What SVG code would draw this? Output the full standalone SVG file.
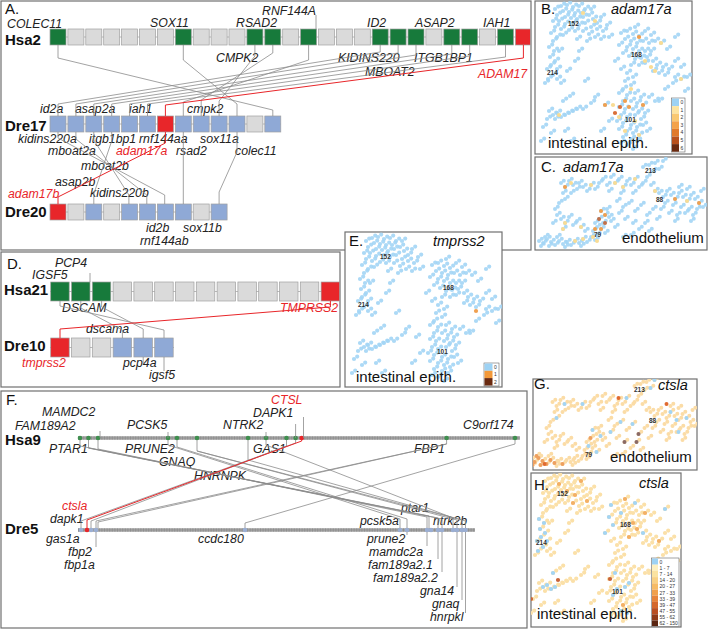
<svg xmlns="http://www.w3.org/2000/svg" width="708" height="629" viewBox="0 0 708 629">
<style>
.fr{fill:#fff;stroke:#707070;stroke-width:1.2}
.g{font-family:"Liberation Sans",Arial,sans-serif;font-style:italic;font-size:12.3px;fill:#222}
.gr{font-family:"Liberation Sans",Arial,sans-serif;font-style:italic;font-size:12.3px;fill:#e8262a}
.ch{font-family:"Liberation Sans",Arial,sans-serif;font-weight:bold;font-size:15px;fill:#111}
.pl{font-family:"Liberation Sans",Arial,sans-serif;font-size:15px;fill:#111}
.tt{font-family:"Liberation Sans",Arial,sans-serif;font-style:italic;font-size:14.5px;fill:#111}
.ct{font-family:"Liberation Sans",Arial,sans-serif;font-size:15px;fill:#111}
.cn{font-family:"Liberation Sans",Arial,sans-serif;font-weight:bold;font-size:6.5px;fill:#333}
.lg{font-family:"Liberation Sans",Arial,sans-serif;font-size:5px;fill:#333}
.bx{stroke:#a0a0a0;stroke-width:.7}
.gy{fill:#dadada}
.gn{fill:#177a3b}
.rd{fill:#e8262a}
.bl{fill:#8fa9d6}
.bk{fill:none;stroke:#a8a8a8;stroke-width:.8}
.ln{fill:none;stroke:#8c8c8c;stroke-width:.8}
.lr{fill:none;stroke:#e8262a;stroke-width:1}
.chr9{fill:none;stroke:#a0a0a0;stroke-width:3.5}
.chrd{fill:none;stroke:#7a7a7a;stroke-width:3.5;stroke-dasharray:1 1.6;opacity:.45}
.dot{fill:none;stroke-linecap:round}
</style>
<defs>
<path id="intDots" class="dot" stroke-width="4.2" d="M20 8h.01M26 5h.01M32 4h.01M38 6h.01M44 5h.01M50 8h.01M28 10h.01M34 11h.01M40 12h.01M46 12h.01M22 14h.01M30 16h.01M36 17h.01M42 18h.01M48 16h.01M54 14h.01M58 18h.01M62 22h.01M24 20h.01M30 23h.01M44 24h.01M50 22h.01M56 26h.01M62 28h.01M68 30h.01M72 24h.01M20 26h.01M26 28h.01M34 29h.01M40 30h.01M48 30h.01M54 33h.01M60 36h.01M66 38h.01M16 32h.01M22 36h.01M28 34h.01M42 38h.01M74 36h.01M52 40h.01M38 22h.01M18 20h.01M66 16h.01M56 8h.01M18 40h.01M14 46h.01M19 50h.01M15 56h.01M20 60h.01M16 64h.01M12 68h.01M22 68h.01M18 74h.01M13 78h.01M22 78h.01M26 82h.01M10 82h.01M32 70h.01M24 50h.01M40 60h.01M50 80h.01M35 95h.01M28 100h.01M56 102h.01M48 108h.01M60 96h.01M44 50h.01M30 130h.01M14 110h.01M18 114h.01M22 112h.01M26 116h.01M30 114h.01M34 112h.01M20 118h.01M38 110h.01M12 118h.01M42 108h.01M8 126h.01M16 132h.01M36 140h.01M6 140h.01M86 32h.01M92 30h.01M98 33h.01M104 35h.01M110 30h.01M116 34h.01M90 38h.01M96 40h.01M102 42h.01M108 40h.01M114 42h.01M120 40h.01M84 44h.01M92 46h.01M98 48h.01M104 50h.01M110 50h.01M116 50h.01M88 52h.01M94 55h.01M100 58h.01M106 57h.01M112 56h.01M118 60h.01M96 64h.01M104 64h.01M110 62h.01M122 64h.01M128 66h.01M134 68h.01M124 72h.01M130 74h.01M140 76h.01M146 78h.01M152 76h.01M138 82h.01M118 70h.01M126 42h.01M132 48h.01M80 60h.01M86 68h.01M100 26h.01M140 36h.01M92 72h.01M98 76h.01M90 80h.01M96 84h.01M88 88h.01M84 92h.01M92 94h.01M100 92h.01M106 96h.01M88 100h.01M96 100h.01M102 102h.01M108 104h.01M84 106h.01M90 108h.01M98 108h.01M104 110h.01M110 112h.01M86 114h.01M92 116h.01M100 114h.01M106 118h.01M82 120h.01M88 122h.01M96 124h.01M102 126h.01M108 124h.01M84 128h.01M92 130h.01M98 132h.01M104 134h.01M88 136h.01M96 138h.01M102 140h.01M92 144h.01M98 148h.01M86 142h.01M114 96h.01M120 100h.01M112 130h.01M70 104h.01M74 120h.01M66 130h.01M140 60h.01M130 88h.01M124 100h.01M150 90h.01M146 66h.01"/>
<path id="endDots" class="dot" stroke-width="4" d="M4 84h.01M8 86h.01M12 82h.01M16 85h.01M20 88h.01M24 84h.01M28 87h.01M32 85h.01M36 88h.01M40 84h.01M44 86h.01M48 82h.01M52 85h.01M56 80h.01M60 83h.01M14 89h.01M30 90h.01M46 89h.01M62 78h.01M10 80h.01M6 89h.01M22 80h.01M58 74h.01M62 70h.01M66 72h.01M60 66h.01M64 62h.01M68 66h.01M70 58h.01M66 54h.01M72 52h.01M74 60h.01M70 76h.01M76 64h.01M22 58h.01M26 62h.01M30 66h.01M34 60h.01M38 68h.01M42 64h.01M46 70h.01M18 66h.01M28 72h.01M50 74h.01M26 26h.01M30 30h.01M34 24h.01M38 28h.01M42 32h.01M28 36h.01M36 36h.01M44 26h.01M48 30h.01M52 34h.01M56 28h.01M60 32h.01M64 26h.01M30 42h.01M24 46h.01M20 52h.01M68 22h.01M72 28h.01M76 20h.01M80 26h.01M84 22h.01M88 30h.01M92 24h.01M96 28h.01M100 22h.01M104 30h.01M108 26h.01M112 20h.01M116 28h.01M120 34h.01M74 34h.01M86 36h.01M98 36h.01M108 10h.01M114 8h.01M120 6h.01M124 12h.01M118 14h.01M128 4h.01M124 36h.01M128 40h.01M132 34h.01M136 38h.01M140 42h.01M144 36h.01M148 40h.01M152 44h.01M156 38h.01M160 42h.01M164 46h.01M130 46h.01M138 48h.01M146 50h.01M154 52h.01M162 52h.01M134 56h.01M142 58h.01M150 56h.01M158 58h.01M126 52h.01M144 30h.01M152 32h.01M166 34h.01M168 50h.01M140 64h.01M156 64h.01M82 44h.01M88 50h.01M94 46h.01M100 54h.01M106 48h.01M112 58h.01M118 52h.01M90 62h.01M98 66h.01M110 66h.01M84 56h.01M122 62h.01M104 72h.01M96 78h.01M80 70h.01M114 74h.01M88 80h.01"/>
<g id="intDense"><use href="#intDots"/><use href="#intDots" transform="translate(3.2,-2.4)"/></g>
<g id="endDense"><use href="#endDots"/><use href="#endDots" transform="translate(2.8,-2.2)"/></g>
<clipPath id="cB"><rect x="535" y="1" width="157" height="153"/></clipPath>
<clipPath id="cC"><rect x="535" y="157" width="172" height="93"/></clipPath>
<clipPath id="cE"><rect x="345" y="232" width="157" height="155"/></clipPath>
<clipPath id="cG"><rect x="533" y="379" width="164" height="91"/></clipPath>
<clipPath id="cH"><rect x="531" y="473" width="150" height="154"/></clipPath>
</defs>

<!-- frames -->
<rect class="fr" x="1" y="1" width="530" height="249"/>
<rect class="fr" x="1" y="252" width="339" height="135"/>
<rect class="fr" x="1" y="391" width="526" height="237"/>
<rect class="fr" x="345" y="232" width="157" height="155"/>
<rect class="fr" x="535" y="1" width="157" height="153"/>
<rect class="fr" x="535" y="157" width="172" height="93"/>
<rect class="fr" x="533" y="379" width="164" height="91"/>
<rect class="fr" x="531" y="473" width="150" height="154"/>

<!-- Panel A -->
<g id="panelA">
<text class="pl" x="5" y="13.5" font-size="13">A.</text>
<g id="Hsa2">
<text class="ch" x="5" y="44.5">Hsa2</text>
<line class="bk" x1="50" y1="37" x2="531" y2="37"/>
<rect class="bx gn" x="50" y="29" width="16" height="16"/>
<rect class="bx gy" x="67.9" y="29" width="16" height="16"/>
<rect class="bx gy" x="85.8" y="29" width="16" height="16"/>
<rect class="bx gy" x="103.7" y="29" width="16" height="16"/>
<rect class="bx gy" x="121.6" y="29" width="16" height="16"/>
<rect class="bx gy" x="139.5" y="29" width="16" height="16"/>
<rect class="bx gy" x="157.4" y="29" width="16" height="16"/>
<rect class="bx gn" x="175.3" y="29" width="16" height="16"/>
<rect class="bx gy" x="193.2" y="29" width="16" height="16"/>
<rect class="bx gy" x="211.1" y="29" width="16" height="16"/>
<rect class="bx gy" x="229" y="29" width="16" height="16"/>
<rect class="bx gn" x="246.9" y="29" width="16" height="16"/>
<rect class="bx gn" x="264.8" y="29" width="16" height="16"/>
<rect class="bx gy" x="282.7" y="29" width="16" height="16"/>
<rect class="bx gn" x="300.6" y="29" width="16" height="16"/>
<rect class="bx gy" x="318.5" y="29" width="16" height="16"/>
<rect class="bx gy" x="336.4" y="29" width="16" height="16"/>
<rect class="bx gy" x="354.3" y="29" width="16" height="16"/>
<rect class="bx gn" x="372.2" y="29" width="16" height="16"/>
<rect class="bx gn" x="390.1" y="29" width="16" height="16"/>
<rect class="bx gn" x="408" y="29" width="16" height="16"/>
<rect class="bx gy" x="425.9" y="29" width="16" height="16"/>
<rect class="bx gn" x="443.8" y="29" width="16" height="16"/>
<rect class="bx gn" x="461.7" y="29" width="16" height="16"/>
<rect class="bx gy" x="479.6" y="29" width="16" height="16"/>
<rect class="bx gn" x="497.5" y="29" width="16" height="16"/>
<rect class="bx rd" x="515.4" y="29" width="15" height="16"/>
<text class="g" x="7" y="27.5">COLEC11</text>
<text class="g" x="150" y="27">SOX11</text>
<text class="g" x="236" y="27">RSAD2</text>
<text class="g" x="262" y="15">RNF144A</text>
<text class="g" x="367" y="27">ID2</text>
<text class="g" x="415" y="27">ASAP2</text>
<text class="g" x="483" y="27">IAH1</text>
<text class="g" x="216" y="62">CMPK2</text>
<text class="g" x="338" y="62">KIDINS220</text>
<text class="g" x="414" y="62">ITGB1BP1</text>
<text class="g" x="365" y="76">MBOAT2</text>
<text class="gr" x="478" y="78">ADAM17</text>
</g>
<g id="Dre17">
<text class="ch" x="5" y="131">Dre17</text>
<line class="bk" x1="50" y1="124" x2="281" y2="124"/>
<rect class="bx bl" x="50" y="116" width="16" height="16"/>
<rect class="bx bl" x="67.9" y="116" width="16" height="16"/>
<rect class="bx bl" x="85.8" y="116" width="16" height="16"/>
<rect class="bx bl" x="103.7" y="116" width="16" height="16"/>
<rect class="bx bl" x="121.6" y="116" width="16" height="16"/>
<rect class="bx bl" x="139.5" y="116" width="16" height="16"/>
<rect class="bx rd" x="157.4" y="116" width="16" height="16"/>
<rect class="bx bl" x="175.3" y="116" width="16" height="16"/>
<rect class="bx bl" x="193.2" y="116" width="16" height="16"/>
<rect class="bx bl" x="211.1" y="116" width="16" height="16"/>
<rect class="bx bl" x="229" y="116" width="16" height="16"/>
<rect class="bx gy" x="246.9" y="116" width="16" height="16"/>
<rect class="bx bl" x="264.8" y="116" width="16" height="16"/>
<text class="g" x="40" y="113">id2a</text>
<text class="g" x="75" y="113">asap2a</text>
<text class="g" x="129" y="113">iah1</text>
<text class="g" x="187" y="113">cmpk2</text>
<text class="g" x="18" y="143">kidins220a</text>
<text class="g" x="89" y="143">itgb1bp1</text>
<text class="g" x="139" y="143">rnf144aa</text>
<text class="g" x="200" y="143">sox11a</text>
<text class="g" x="48" y="155">mboat2a</text>
<text class="gr" x="116" y="155">adam17a</text>
<text class="g" x="176" y="155">rsad2</text>
<text class="g" x="235" y="155">colec11</text>
<text class="g" x="81" y="170">mboat2b</text>
<text class="g" x="55" y="186">asap2b</text>
<text class="gr" x="8" y="198">adam17b</text>
<text class="g" x="90" y="197">kidins220b</text>
</g>
<g id="Dre20">
<text class="ch" x="5" y="217">Dre20</text>
<line class="bk" x1="50" y1="212" x2="227" y2="212"/>
<rect class="bx rd" x="50" y="204" width="16" height="16"/>
<rect class="bx gy" x="67.9" y="204" width="16" height="16"/>
<rect class="bx bl" x="85.8" y="204" width="16" height="16"/>
<rect class="bx gy" x="103.7" y="204" width="16" height="16"/>
<rect class="bx bl" x="121.6" y="204" width="16" height="16"/>
<rect class="bx bl" x="139.5" y="204" width="16" height="16"/>
<rect class="bx bl" x="157.4" y="204" width="16" height="16"/>
<rect class="bx bl" x="175.3" y="204" width="16" height="16"/>
<rect class="bx gy" x="193.2" y="204" width="16" height="16"/>
<rect class="bx bl" x="211.1" y="204" width="16" height="16"/>
<text class="g" x="146" y="232">id2b</text>
<text class="g" x="183" y="232">sox11b</text>
<text class="g" x="140" y="245">rnf144ab</text>
</g>
</g>

<!-- Panel D -->
<g id="panelD">
<text class="pl" x="7" y="269">D.</text>
<g id="Hsa21">
<text class="ch" x="4" y="295">Hsa21</text>
<line class="bk" x1="50" y1="291.5" x2="340" y2="291.5"/>
<rect class="bx gn" x="50.7" y="282" width="18.5" height="19"/>
<rect class="bx gn" x="71.5" y="282" width="18.5" height="19"/>
<rect class="bx gn" x="92.3" y="282" width="18.5" height="19"/>
<rect class="bx gy" x="113.1" y="282" width="18.5" height="19"/>
<rect class="bx gy" x="133.9" y="282" width="18.5" height="19"/>
<rect class="bx gy" x="154.7" y="282" width="18.5" height="19"/>
<rect class="bx gy" x="175.5" y="282" width="18.5" height="19"/>
<rect class="bx gy" x="196.3" y="282" width="18.5" height="19"/>
<rect class="bx gy" x="217.1" y="282" width="18.5" height="19"/>
<rect class="bx gy" x="237.9" y="282" width="18.5" height="19"/>
<rect class="bx gy" x="258.7" y="282" width="18.5" height="19"/>
<rect class="bx gy" x="279.5" y="282" width="18.5" height="19"/>
<rect class="bx gy" x="300.3" y="282" width="18.5" height="19"/>
<rect class="bx rd" x="321.1" y="282" width="18.5" height="19"/>
<text class="g" x="55" y="267">PCP4</text>
<text class="g" x="32" y="279">IGSF5</text>
<text class="g" x="62" y="312">DSCAM</text>
<text class="gr" x="280" y="312">TMPRSS2</text>
</g>
<g id="Dre10">
<text class="ch" x="4" y="351">Dre10</text>
<line class="bk" x1="50" y1="347.5" x2="174" y2="347.5"/>
<rect class="bx rd" x="50.7" y="338" width="18.5" height="19"/>
<rect class="bx gy" x="71.5" y="338" width="18.5" height="19"/>
<rect class="bx gy" x="92.3" y="338" width="18.5" height="19"/>
<rect class="bx bl" x="113.1" y="338" width="18.5" height="19"/>
<rect class="bx bl" x="133.9" y="338" width="18.5" height="19"/>
<rect class="bx bl" x="154.7" y="338" width="18.5" height="19"/>
<text class="g" x="86" y="333">dscama</text>
<text class="gr" x="22" y="367">tmprss2</text>
<text class="g" x="123" y="367">pcp4a</text>
<text class="g" x="149" y="379">igsf5</text>
</g>
</g>

<!-- Panel F -->
<g id="panelF">
<text class="pl" x="6" y="405">F.</text>
<g id="Hsa9">
<text class="ch" x="5" y="445">Hsa9</text>
<line class="chr9" x1="78" y1="438" x2="520" y2="438"/>
<line class="chrd" x1="78" y1="438" x2="520" y2="438"/>
<g fill="#3f8f4f">
<circle cx="80" cy="438" r="2.3"/><circle cx="88.5" cy="438" r="2.3"/><circle cx="98" cy="438" r="2.3"/>
<circle cx="168" cy="438" r="2.3"/><circle cx="177" cy="438" r="2.3"/><circle cx="197" cy="438" r="2.3"/>
<circle cx="248" cy="438" r="2.3"/><circle cx="266" cy="438" r="2.3"/><circle cx="286.5" cy="438" r="2.3"/>
<circle cx="295.6" cy="438" r="2.3"/><circle cx="446.6" cy="438" r="2.3"/><circle cx="515" cy="438" r="2.3"/>
</g>
<circle cx="301.7" cy="438" r="2.3" fill="#e8262a"/>
<text class="g" x="42" y="416">MAMDC2</text>
<text class="g" x="15" y="430">FAM189A2</text>
<text class="g" x="127" y="429">PCSK5</text>
<text class="g" x="223" y="429">NTRK2</text>
<text class="g" x="253" y="417">DAPK1</text>
<text class="gr" x="271" y="404">CTSL</text>
<text class="g" x="463" y="429">C9orf174</text>
<text class="g" x="49" y="453">PTAR1</text>
<text class="g" x="125" y="453">PRUNE2</text>
<text class="g" x="253" y="453">GAS1</text>
<text class="g" x="414" y="453">FBP1</text>
<text class="g" x="159" y="466">GNAQ</text>
<text class="g" x="194" y="480">HNRNPK</text>
</g>
<g id="Dre5">
<text class="ch" x="5" y="534">Dre5</text>
<line class="chr9" x1="78" y1="530" x2="475" y2="530"/>
<line class="chrd" x1="78" y1="530" x2="475" y2="530"/>
<g fill="#9aaed3">
<circle cx="81" cy="530" r="2.3"/><circle cx="91" cy="530" r="2.3"/><circle cx="96" cy="530" r="2.3"/>
<circle cx="245" cy="530" r="2.3"/><circle cx="400" cy="530" r="2.3"/><circle cx="407" cy="530" r="2.3"/>
<circle cx="427" cy="530" r="2.3"/><circle cx="431" cy="530" r="2.3"/><circle cx="438" cy="530" r="2.3"/>
<circle cx="442" cy="530" r="2.3"/><circle cx="453" cy="530" r="2.3"/><circle cx="457" cy="530" r="2.3"/>
<circle cx="462" cy="530" r="2.3"/><circle cx="465.5" cy="530" r="2.3"/>
</g>
<circle cx="87" cy="530" r="2.3" fill="#e8262a"/>
<text class="gr" x="62" y="510">ctsla</text>
<text class="g" x="50" y="523">dapk1</text>
<text class="g" x="46" y="543">gas1a</text>
<text class="g" x="68" y="556">fbp2</text>
<text class="g" x="64" y="569">fbp1a</text>
<text class="g" x="198" y="543">ccdc180</text>
<text class="g" x="401" y="512">ptar1</text>
<text class="g" x="360" y="525">pcsk5a</text>
<text class="g" x="433" y="525">ntrk2b</text>
<text class="g" x="367" y="543">prune2</text>
<text class="g" x="369" y="556">mamdc2a</text>
<text class="g" x="368" y="569">fam189a2.1</text>
<text class="g" x="373" y="582">fam189a2.2</text>
<text class="g" x="420" y="595">gna14</text>
<text class="g" x="432" y="608">gnaq</text>
<text class="g" x="430" y="621">hnrpkl</text>
</g>
</g>

<!-- connectors -->
<g id="connectors">
<polyline class="ln" points="316,15 316,29"/>
<polyline class="ln" points="58,45 58,58 272.8,110 272.8,116"/>
<polyline class="ln" points="183.3,45 183.3,60 237,104 237,116"/>
<polyline class="ln" points="254.9,45 254.9,56 219.1,101 219.1,116"/>
<polyline class="ln" points="272.8,45 272.8,53 201.2,100 201.2,116"/>
<polyline class="ln" points="308.6,45 308.6,60 183.3,102 183.3,116"/>
<polyline class="ln" points="380.2,45 380.2,52 58,104 58,116"/>
<polyline class="ln" points="398.1,45 398.1,53 75.9,104 75.9,116"/>
<polyline class="ln" points="416,45 416,55 93.8,104 93.8,116"/>
<polyline class="ln" points="451.8,45 451.8,54 111.7,104 111.7,116"/>
<polyline class="ln" points="469.7,45 469.7,56 129.6,104 129.6,116"/>
<polyline class="ln" points="505.5,45 505.5,57 147.5,104 147.5,116"/>
<polyline class="lr" points="523.4,45 523.4,58 165.4,105 165.4,116"/>
<polyline class="ln" points="58,132 58,138 164.7,195 164.7,204"/>
<polyline class="ln" points="75.9,132 75.9,139 146.8,195 146.8,204"/>
<polyline class="ln" points="93.8,132 93.8,140 128.9,195 128.9,204"/>
<polyline class="ln" points="111.7,132 111.7,141 93.8,194 93.8,204"/>
<polyline class="ln" points="183.3,132 183.3,204"/>
<polyline class="ln" points="237,132 237,152 219.1,192 219.1,204"/>
<polyline class="lr" points="165.4,132 165.4,143 58,197 58,204"/>
<polyline class="ln" points="90,273 90,282"/>
<polyline class="ln" points="60,301 60,306 164,330 164,338"/>
<polyline class="ln" points="80.8,301 80.8,308 122.4,330 122.4,338"/>
<polyline class="ln" points="101.6,301 101.6,307 143.2,329 143.2,338"/>
<polyline class="ln" points="143.2,357 143.2,363"/>
<polyline class="ln" points="164,357 164,371"/>
<polyline class="lr" points="330.4,301 330.4,307 60,329 60,338"/>
<polyline class="ln" points="100,438 100,431"/>
<polyline class="ln" points="168,438 168,432"/>
<polyline class="ln" points="266,438 266,432"/>
<polyline class="ln" points="295.6,438 295.6,424"/>
<polyline class="ln" points="303.5,438 303.5,417"/>
<polyline class="ln" points="80,440 80,446 429,516 429,528"/>
<polyline class="ln" points="88.5,440 88.5,448 438,518 438,528"/>
<polyline class="ln" points="88.5,448 442,519 442,528"/>
<polyline class="ln" points="98,440 98,449 427,517 427,528"/>
<polyline class="ln" points="168,440 168,445 400,519 400,528"/>
<polyline class="ln" points="177,440 177,447 407,519 407,528"/>
<polyline class="ln" points="197,440 197,451 462,520 462,528"/>
<polyline class="ln" points="197,451 457,520 457,528"/>
<polyline class="ln" points="248,440 248,460 465.5,521 465.5,528"/>
<polyline class="ln" points="266,440 266,445 453,518 453,528"/>
<polyline class="ln" points="286.5,440 286.5,446 91,521 91,528"/>
<polyline class="ln" points="295.6,440 295.6,443 81,521 81,528"/>
<polyline class="ln" points="446.6,440 446.6,444 96,521 96,528"/>
<polyline class="ln" points="446.6,444 98,522 98,528"/>
<polyline class="ln" points="515,440 515,444 245,523 245,528"/>
<polyline class="lr" points="301.7,440 301.7,441 87,520 87,528"/>
<polyline class="ln" points="96,532 96,547"/>
<polyline class="ln" points="407,532 407,535"/>
<polyline class="ln" points="427,532 427,546"/>
<polyline class="ln" points="438,532 438,559"/>
<polyline class="ln" points="442,532 442,572"/>
<polyline class="ln" points="457,532 457,587"/>
<polyline class="ln" points="462,532 462,600"/>
<polyline class="ln" points="465.5,532 465.5,613"/>
</g>

<!-- Panel B -->
<g id="panelB">
<g clip-path="url(#cB)">
<use href="#intDense" transform="translate(535,1)" stroke="#a3d5f5" stroke-opacity=".9"/>
<g transform="translate(535,1)" class="dot" stroke-width="4.2">
<path stroke="#f9dc94" d="M100 120h.01M84 116h.01M96 88h.01M60 20h.01M48 12h.01M110 60h.01M116 66h.01M120 70h.01M104 134h.01M90 130h.01M24 114h.01M78 104h.01M126 42h.01M146 78h.01"/>
<path stroke="#f0a050" d="M94 106h.01M90 100h.01M104 36h.01M70 104h.01M108 104h.01"/>
<path stroke="#d9703a" d="M85 106h.01M80 112h.01"/>
</g>
</g>
<text class="cn" x="568" y="26">152</text>
<text class="cn" x="547" y="75">214</text>
<text class="cn" x="631" y="57">168</text>
<text class="cn" x="625" y="122">101</text>
<text class="pl" x="541" y="14">B.</text>
<text class="tt" x="611" y="14">adam17a</text>
<text class="ct" x="548" y="148">intestinal epith.</text>
<g id="legendB">
<rect x="671.5" y="98" width="13.5" height="54" fill="#fff" stroke="#666" stroke-width=".6"/>
<rect x="672" y="98.5" width="7" height="7.6" fill="#9dd2f4"/>
<rect x="672" y="106.1" width="7" height="7.6" fill="#fde4a0"/>
<rect x="672" y="113.7" width="7" height="7.6" fill="#f9c872"/>
<rect x="672" y="121.3" width="7" height="7.6" fill="#f3a24a"/>
<rect x="672" y="128.9" width="7" height="7.6" fill="#e07a2c"/>
<rect x="672" y="136.5" width="7" height="7.6" fill="#b8501c"/>
<rect x="672" y="144.1" width="7" height="7.6" fill="#6a2a10"/>
<text class="lg" x="680.5" y="104">0</text>
<text class="lg" x="680.5" y="111.6">1</text>
<text class="lg" x="680.5" y="119.2">2</text>
<text class="lg" x="680.5" y="126.8">3</text>
<text class="lg" x="680.5" y="134.4">4</text>
<text class="lg" x="680.5" y="142">5</text>
<text class="lg" x="680.5" y="149.6">6</text>
</g>
</g>

<!-- Panel C -->
<g id="panelC">
<g clip-path="url(#cC)">
<use href="#endDense" transform="translate(535,157)" stroke="#a3d5f5" stroke-opacity=".9"/>
<g transform="translate(535,157)" class="dot" stroke-width="4">
<path stroke="#f9dc94" d="M58 80h.01M62 84h.01M40 84h.01M36 26h.01M56 28h.01M100 22h.01M88 30h.01M28 72h.01M48 82h.01M30 66h.01M120 34h.01M80 26h.01M46 70h.01M152 44h.01"/>
<path stroke="#f0a050" d="M60 72h.01M70 58h.01M30 30h.01M140 42h.01M164 46h.01M66 72h.01M66 54h.01"/>
<path stroke="#c0704a" d="M64 62h.01M70 66h.01"/>
</g>
</g>
<text class="cn" x="645" y="173">213</text>
<text class="cn" x="656" y="202">88</text>
<text class="cn" x="594" y="237">79</text>
<text class="pl" x="541" y="172">C.</text>
<text class="tt" x="563" y="172">adam17a</text>
<text class="ct" x="622" y="243">endothelium</text>
</g>

<!-- Panel E -->
<g id="panelE">
<g clip-path="url(#cE)">
<use href="#intDense" transform="translate(346,233)" stroke="#a3d5f5" stroke-opacity=".9"/>
<path class="dot" stroke-width="4.2" stroke="#f0a050" d="M476 311h.01"/>
</g>
<text class="cn" x="380" y="259">152</text>
<text class="cn" x="358" y="307">214</text>
<text class="cn" x="443" y="290">168</text>
<text class="cn" x="437" y="354">101</text>
<text class="pl" x="349" y="246">E.</text>
<text class="tt" x="433" y="246">tmprss2</text>
<text class="ct" x="356" y="382">intestinal epith.</text>
<g id="legendE">
<rect x="484" y="363" width="15" height="23" fill="#fff" stroke="#666" stroke-width=".6"/>
<rect x="484.5" y="363.5" width="8" height="7.3" fill="#9dd2f4"/>
<rect x="484.5" y="370.8" width="8" height="7.3" fill="#f3993a"/>
<rect x="484.5" y="378.1" width="8" height="7.4" fill="#6a2a10"/>
<text class="lg" x="494" y="369">0</text>
<text class="lg" x="494" y="376.3">1</text>
<text class="lg" x="494" y="383.6">2</text>
</g>
</g>

<!-- Panel G -->
<g id="panelG">
<g clip-path="url(#cG)">
<use href="#endDense" transform="translate(526.5,376)" stroke="#fbdca6"/>
<g transform="translate(526.5,376)" class="dot" stroke-width="4">
<path stroke="#a3d5f5" d="M38 28h.01M56 28h.01M100 22h.01M94 46h.01M106 48h.01M144 36h.01M150 44h.01M160 42h.01M66 54h.01M70 76h.01M84 56h.01M124 12h.01M128 4h.01M62 70h.01M30 42h.01M152 56h.01M74 60h.01"/>
<path stroke="#eea060" d="M8 86h.01M12 82h.01M16 85h.01M20 88h.01M24 84h.01M6 89h.01M14 89h.01M28 87h.01M10 80h.01M36 88h.01M64 62h.01"/>
<path stroke="#e06a30" d="M92 22h.01M140 28h.01M18 88h.01"/>
<path stroke="#8a6a66" d="M98 66h.01M110 66h.01M112 58h.01"/>
</g>
</g>
<text class="cn" x="634" y="392">213</text>
<text class="cn" x="649" y="423">88</text>
<text class="cn" x="585" y="457">79</text>
<text class="pl" x="534" y="389">G.</text>
<text class="tt" x="658" y="390">ctsla</text>
<text class="ct" x="610" y="462">endothelium</text>
</g>

<!-- Panel H -->
<g id="panelH">
<g clip-path="url(#cH)">
<use href="#intDense" transform="translate(525,473)" stroke="#fbe0a8"/>
<g transform="translate(525,473)" class="dot" stroke-width="4.2">
<path stroke="#a3d5f5" d="M14 46h.01M19 50h.01M15 56h.01M20 60h.01M16 64h.01M12 68h.01M22 68h.01M18 74h.01M13 78h.01M18 114h.01M22 112h.01M26 116h.01M30 114h.01M84 44h.01M88 52h.01M86 32h.01M110 30h.01M96 40h.01M92 116h.01M100 114h.01M90 100h.01M104 110h.01M96 138h.01M102 140h.01M80 60h.01M28 100h.01M140 36h.01M118 60h.01M88 122h.01"/>
<path stroke="#f3b066" d="M42 18h.01M50 22h.01M34 11h.01M48 30h.01M62 28h.01M108 50h.01M112 56h.01M120 40h.01M134 68h.01M100 26h.01M56 8h.01M104 64h.01M98 132h.01"/>
<path stroke="#c8643a" d="M33 107h.01M85 106h.01M6 126h.01"/>
</g>
</g>
<text class="cn" x="557" y="496">152</text>
<text class="cn" x="536" y="545">214</text>
<text class="cn" x="620" y="527">168</text>
<text class="cn" x="612" y="594">101</text>
<text class="pl" x="534" y="490">H.</text>
<text class="tt" x="639" y="488">ctsla</text>
<text class="ct" x="537" y="619">intestinal epith.</text>
<g id="legendH">
<rect x="651.5" y="558" width="27.5" height="68.5" fill="#fff" stroke="#666" stroke-width=".6"/>
<rect x="652" y="558.5" width="6" height="6.2" fill="#9dd2f4"/>
<rect x="652" y="564.7" width="6" height="6.2" fill="#fdf0c0"/>
<rect x="652" y="570.9" width="6" height="6.2" fill="#fbe3a0"/>
<rect x="652" y="577.1" width="6" height="6.2" fill="#f9d184"/>
<rect x="652" y="583.3" width="6" height="6.2" fill="#f6bb66"/>
<rect x="652" y="589.5" width="6" height="6.2" fill="#f0a04c"/>
<rect x="652" y="595.7" width="6" height="6.2" fill="#e6833a"/>
<rect x="652" y="601.9" width="6" height="6.2" fill="#d4682c"/>
<rect x="652" y="608.1" width="6" height="6.2" fill="#b94f22"/>
<rect x="652" y="614.3" width="6" height="6.2" fill="#8f3a18"/>
<rect x="652" y="620.5" width="6" height="5.6" fill="#5a2410"/>
<text class="lg" x="659.5" y="563.5" font-size="4.3">0</text>
<text class="lg" x="659.5" y="569.7" font-size="4.3">1 - 7</text>
<text class="lg" x="659.5" y="575.9" font-size="4.3">7 - 14</text>
<text class="lg" x="659.5" y="582.1" font-size="4.3">14 - 20</text>
<text class="lg" x="659.5" y="588.3" font-size="4.3">20 - 27</text>
<text class="lg" x="659.5" y="594.5" font-size="4.3">27 - 33</text>
<text class="lg" x="659.5" y="600.7" font-size="4.3">33 - 39</text>
<text class="lg" x="659.5" y="606.9" font-size="4.3">39 - 47</text>
<text class="lg" x="659.5" y="613.1" font-size="4.3">47 - 55</text>
<text class="lg" x="659.5" y="619.3" font-size="4.3">55 - 62</text>
<text class="lg" x="659.5" y="625.3" font-size="4.3">62 - 150</text>
</g>
</g>
</svg>
